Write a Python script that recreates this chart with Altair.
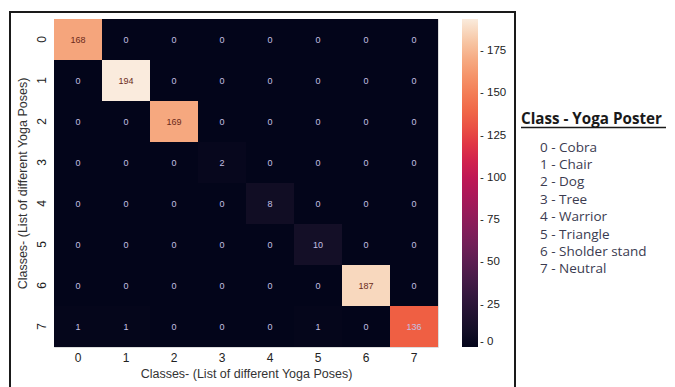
import altair as alt
import pandas as pd

classes = ["0", "1", "2", "3", "4", "5", "6", "7"]
matrix = [
    [168, 0, 0, 0, 0, 0, 0, 0],
    [0, 194, 0, 0, 0, 0, 0, 0],
    [0, 0, 169, 0, 0, 0, 0, 0],
    [0, 0, 0, 2, 0, 0, 0, 0],
    [0, 0, 0, 0, 8, 0, 0, 0],
    [0, 0, 0, 0, 0, 10, 0, 0],
    [0, 0, 0, 0, 0, 0, 187, 0],
    [1, 1, 0, 0, 0, 1, 0, 136],
]
pose_names = ["Cobra", "Chair", "Dog", "Tree", "Warrior", "Triangle", "Sholder stand", "Neutral"]
colorbar_ticks = [0, 25, 50, 75, 100, 125, 150, 175]
legend_title = "Class - Yoga Poster"
axis_title = "Classes- (List of different Yoga Poses)"

rocket = ["#03051A", "#221331", "#451C47", "#6C1F56", "#931C5A", "#B91657",
          "#DC2B46", "#EF5F43", "#F4875E", "#F6B48E", "#FAEBDD"]

rows = []
for i, r in enumerate(matrix):
    for j, v in enumerate(r):
        rows.append({"true": classes[i], "pred": classes[j], "value": v})
df = pd.DataFrame(rows)
one = pd.DataFrame({"k": [0]})

W, H = 384, 328

common_axis = dict(ticks=False, domain=False, grid=False,
                   labelFontSize=12, titleFontSize=12.5, titleFontWeight="normal",
                   labelColor="#222222", titleColor="#333333",
                   labelFont="Liberation Sans", titleFont="Liberation Sans")

x_enc = alt.X("pred:O", sort=classes, title=axis_title,
              scale=alt.Scale(paddingInner=0, paddingOuter=0),
              axis=alt.Axis(labelAngle=0, labelPadding=5, titlePadding=4, **common_axis))
y_enc = alt.Y("true:O", sort=classes, title=axis_title,
              scale=alt.Scale(paddingInner=0, paddingOuter=0),
              axis=alt.Axis(labelAngle=270, labelPadding=6, titlePadding=6, **common_axis))

heat = alt.Chart(df).mark_rect().encode(
    x=x_enc,
    y=y_enc,
    color=alt.Color("value:Q",
                    scale=alt.Scale(domain=[0, 194], range=rocket),
                    legend=alt.Legend(title=None, orient="none", legendX=408, legendY=0,
                                      direction="vertical", gradientLength=H,
                                      gradientThickness=16, gradientStrokeWidth=0,
                                      values=colorbar_ticks, labelFontSize=11.5,
                                      labelFont="Liberation Sans", labelColor="#222222",
                                      labelOffset=2, labelExpr="'- ' + datum.label")),
)

labels = alt.Chart(df).mark_text(fontSize=9, font="Liberation Sans").encode(
    x=alt.X("pred:O", sort=classes),
    y=alt.Y("true:O", sort=classes),
    text=alt.Text("value:Q"),
    color=alt.condition(alt.datum.value > 150, alt.value("#6b2a1a"), alt.value("#c4c0e4")),
)

frame = alt.Chart(one).mark_rect(fillOpacity=0, stroke="#1a1a1a", strokeWidth=2).encode(
    x=alt.value(-44), x2=alt.value(461), y=alt.value(-7), y2=alt.value(420)
)

title_txt = alt.Chart(one).mark_text(align="left", baseline="alphabetic", font="Open Sans",
                                    fontSize=15.2, fontWeight="bold", color="#1a1a1a").encode(
    x=alt.value(467), y=alt.value(105), text=alt.value(legend_title)
)
underline = alt.Chart(one).mark_rule(color="#1a1a1a", strokeWidth=1.5).encode(
    x=alt.value(467), x2=alt.value(612), y=alt.value(108.5)
)
items_txt = alt.Chart(one).mark_text(align="left", baseline="alphabetic", font="Open Sans",
                                    fontSize=13.5, color="#3b3b50", lineBreak="\n",
                                    lineHeight=17.4).encode(
    x=alt.value(486), y=alt.value(132.5),
    text=alt.value("\n".join(f"{c} - {n}" for c, n in zip(classes, pose_names)))
)

chart = alt.layer(heat, labels, frame, title_txt, underline, items_txt).properties(
    width=W, height=H,
    autosize=alt.AutoSizeParams(type="none"),
    padding={"left": 46, "top": 11, "right": 229, "bottom": 40},
).configure_view(strokeWidth=0).configure(background="white")

chart.save("out.html", embed_options={"renderer": "svg", "actions": False})
